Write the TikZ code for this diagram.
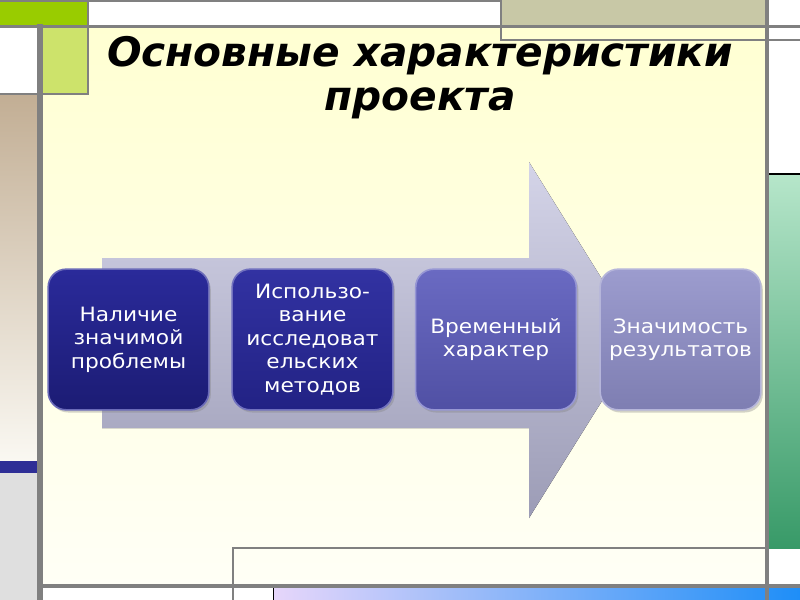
\documentclass[tikz,border=0pt]{standalone}
\usepackage{fontspec}
\newfontfamily\titlefont{DejaVu Sans}
\newfontfamily\boxfont[FakeStretch=1.1]{DejaVu Sans}
\usetikzlibrary{shadows}
\definecolor{bgtop}{HTML}{FFFFD2}
\definecolor{bgbot}{HTML}{FFFFF6}
\definecolor{greenA}{HTML}{99CC00}
\definecolor{greenB}{HTML}{CDE36B}
\definecolor{khaki}{HTML}{C8C8A6}
\definecolor{tantop}{HTML}{C2AE94}
\definecolor{tanbot}{HTML}{FAF8F2}
\definecolor{stripeblue}{HTML}{2E2E96}
\definecolor{lgray}{HTML}{DFDFDF}
\definecolor{greenlt}{HTML}{B6E6CA}
\definecolor{greendk}{HTML}{389A68}
\definecolor{lavend}{HTML}{E6D6FA}
\definecolor{bluebar}{HTML}{1E8EF8}
\definecolor{framegray}{HTML}{808080}
\definecolor{arrowtop}{HTML}{D4D4E8}
\definecolor{arrowbot}{HTML}{9C9CB6}
\definecolor{boxAt}{HTML}{2A2A9A}
\definecolor{boxAb}{HTML}{1C1C74}
\definecolor{boxBt}{HTML}{3232A2}
\definecolor{boxBb}{HTML}{222284}
\definecolor{boxCt}{HTML}{6A6AC2}
\definecolor{boxCb}{HTML}{5050A4}
\definecolor{boxDt}{HTML}{9C9CCE}
\definecolor{boxDb}{HTML}{7E7EB2}
\tikzset{
  frameline/.style={draw=framegray},
  cardbox/.style={rounded corners=13.5pt, minimum width=120.5pt, minimum height=105.5pt,
    align=center, text=white, line width=1.2pt,
    font=\boxfont\fontsize{14.8}{17.6}\selectfont,
    drop shadow={shadow xshift=1.5pt, shadow yshift=-2pt, opacity=0.35}},
  titletext/.style={font=\titlefont\bfseries\itshape\fontsize{30.5}{32}\selectfont, anchor=base, inner sep=0pt}
}
\begin{document}
\begin{tikzpicture}[x=0.75pt,y=-0.75pt]
\useasboundingbox (0,0) rectangle (800,600);
\fill[white] (0,0) rectangle (800,600);
% content background
\fill[top color=bgtop, bottom color=bgbot] (40,26) rectangle (767,586);
% top strips
\fill[greenA] (0,0) rectangle (88,26);
\fill[greenB] (40,26) rectangle (88,94);
\fill[khaki] (501,0) rectangle (767,26);
% left column
\fill[top color=tantop, bottom color=tanbot] (0,94) rectangle (38,461);
\fill[stripeblue] (0,461) rectangle (38,473);
\fill[lgray] (0,473) rectangle (38,600);
% right column
\fill[top color=greenlt, bottom color=greendk] (768,174) rectangle (800,548);
\draw[black, line width=1pt] (768,174) -- (800,174);
% bottom bar
\fill[left color=lavend, right color=bluebar] (274,588) rectangle (800,600);
\draw[black, line width=0.8pt] (273.5,588) -- (273.5,600);
% frame lines
\draw[frameline, line width=1.5pt] (0,1) -- (501,1);
\draw[frameline, line width=2.2pt] (0,26.5) -- (800,26.5);
\draw[frameline, line width=1.6pt] (88,0) -- (88,94) -- (0,94);
\draw[frameline, line width=1.5pt] (501,0) -- (501,40) -- (800,40);
\draw[frameline, line width=4pt] (40,24) -- (40,600);
\draw[frameline, line width=3pt] (766.5,0) -- (766.5,600);
\draw[frameline, line width=1.5pt] (233,600) -- (233,548) -- (767,548);
\draw[frameline, line width=3pt] (38,586) -- (800,586);
% big arrow
\fill[top color=arrowtop, bottom color=arrowbot]
  (102,258) -- (529,258) -- (529,162) -- (640,340) -- (529,518) -- (529,428) -- (102,428) -- cycle;
% title
\node[titletext] (t1) at (420,66) {Основные характеристики};
\node[titletext] (t2) at (420,110) {проекта};
% cards
\node[cardbox, top color=boxAt, bottom color=boxAb, draw=boxAt!70!white] (c1) at (128.5,339.5)
  {Наличие\\значимой\\проблемы};
\node[cardbox, top color=boxBt, bottom color=boxBb, draw=boxBt!70!white] (c2) at (312.5,339.5)
  {Использо-\\вание\\исследоват\\ельских\\методов};
\node[cardbox, top color=boxCt, bottom color=boxCb, draw=boxCt!70!white] (c3) at (496,339.5)
  {Временный\\характер};
\node[cardbox, top color=boxDt, bottom color=boxDb, draw=boxDt!75!white] (c4) at (680.5,339.5)
  {Значимость\\результатов};
\end{tikzpicture}
\end{document}
